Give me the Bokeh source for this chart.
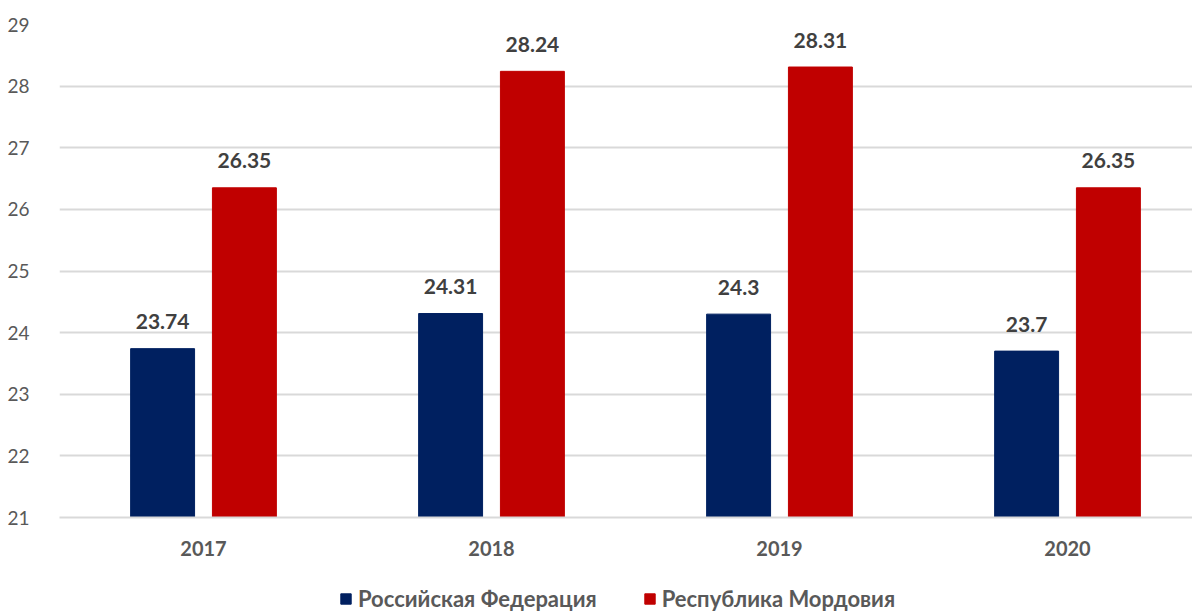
from bokeh.plotting import figure
from bokeh.layouts import column
from bokeh.models import ColumnDataSource, Range1d, FixedTicker, SingleIntervalTicker, Legend, LegendItem, LabelSet
from bokeh.core.properties import value
from bokeh.transform import dodge
from bokeh.embed import file_html
from bokeh.resources import INLINE

years = ["2017", "2018", "2019", "2020"]
rf_values = [23.74, 24.31, 24.3, 23.7]
mord_values = [26.35, 28.24, 28.31, 26.35]
series_names = ["Российская Федерация", "Республика Мордовия"]
colors = ["#002060", "#C00000"]

FONT = "Lato"
xs = list(range(len(years)))
src_rf = ColumnDataSource(dict(x=xs, top=rf_values, label=[str(v) for v in rf_values]))
src_md = ColumnDataSource(dict(x=xs, top=mord_values, label=[str(v) for v in mord_values]))

p = figure(frame_width=1133, frame_height=493, output_backend="svg", toolbar_location=None,
           x_range=Range1d(-0.5, 3.434), y_range=Range1d(21, 29),
           min_border_left=59, min_border_right=0, min_border_top=24, min_border_bottom=55)
p.outline_line_color = None
p.background_fill_color = "white"
p.border_fill_color = "white"

off = 0.142
bw = 0.222
p.vbar(x=dodge("x", -off, range=p.x_range), top="top", bottom=21, width=bw, source=src_rf,
       fill_color=colors[0], line_color=colors[0])
p.vbar(x=dodge("x", off, range=p.x_range), top="top", bottom=21, width=bw, source=src_md,
       fill_color=colors[1], line_color=colors[1])

for src, o in ((src_rf, -off), (src_md, off)):
    lab = LabelSet(x=dodge("x", o, range=p.x_range), y="top", text="label", source=src,
                   text_align="center", text_baseline="middle", y_offset=27,
                   text_font=value(FONT), text_font_style="bold", text_font_size="21px",
                   text_color="#404040")
    p.add_layout(lab)

p.xaxis.ticker = FixedTicker(ticks=xs)
p.xaxis.major_label_overrides = {i: y for i, y in enumerate(years)}
p.xaxis.major_label_text_font = FONT
p.xaxis.major_label_text_font_style = "bold"
p.xaxis.major_label_text_font_size = "20px"
p.xaxis.major_label_text_color = "#595959"
p.xaxis.major_tick_line_color = None
p.xaxis.minor_tick_line_color = None
p.xaxis.axis_line_color = "#D9D9D9"
p.xaxis.axis_line_width = 2
p.xaxis.major_label_standoff = 17

p.yaxis.ticker = SingleIntervalTicker(interval=1)
p.yaxis.major_label_text_font = FONT
p.yaxis.major_label_text_font_size = "19px"
p.yaxis.major_label_text_color = "#595959"
p.yaxis.major_tick_line_color = None
p.yaxis.minor_tick_line_color = None
p.yaxis.axis_line_color = None
p.yaxis.major_label_standoff = 24

p.xgrid.grid_line_color = None
p.ygrid.grid_line_color = "#D9D9D9"
p.ygrid.grid_line_width = 2

# legend strip below the chart (its swatch renderers sit outside the visible range)
lg = figure(frame_width=1192, frame_height=40, output_backend="svg", toolbar_location=None,
            x_range=Range1d(0, 1), y_range=Range1d(0, 1),
            min_border=0, x_axis_type=None, y_axis_type=None)
lg.outline_line_color = None
lg.xgrid.visible = False
lg.ygrid.visible = False
swatch = ColumnDataSource(dict(x=[10], top=[10], bottom=[9]))
d1 = lg.vbar(x="x", top="top", bottom="bottom", width=0.1, source=swatch,
             fill_color=colors[0], line_color=colors[0])
d2 = lg.vbar(x="x", top="top", bottom="bottom", width=0.1, source=swatch,
             fill_color=colors[1], line_color=colors[1])
legend = Legend(items=[LegendItem(label=series_names[0], renderers=[d1]),
                       LegendItem(label=series_names[1], renderers=[d2])],
                orientation="horizontal", location=(339, 0),
                glyph_width=13, glyph_height=13, label_standoff=6, spacing=46,
                label_text_font=FONT, label_text_font_style="bold", label_text_font_size="22px",
                label_text_color="#595959", border_line_color=None, background_fill_alpha=0,
                padding=2, margin=0)
lg.add_layout(legend)

layout = column(p, lg, spacing=0)
open("out.html", "w").write(file_html(layout, INLINE))
